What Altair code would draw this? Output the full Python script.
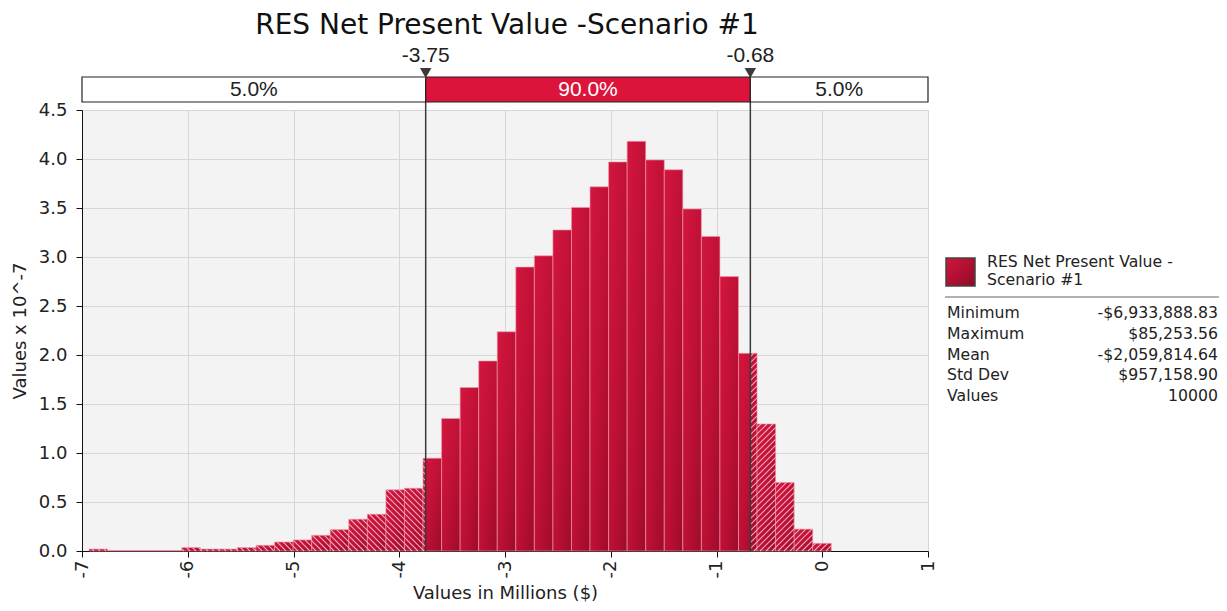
import math
import altair as alt
import pandas as pd

# ---------------- data ----------------
bin_min = -6.93388883
bin_max = 0.08525356
n_bins = 40
heights = [0.02, 0.005, 0.005, 0.005, 0.005, 0.035, 0.02, 0.02, 0.035, 0.058,
           0.092, 0.113, 0.16, 0.218, 0.324, 0.375, 0.624, 0.64, 0.947, 1.353,
           1.668, 1.939, 2.237, 2.897, 3.012, 3.276, 3.506, 3.716, 3.97, 4.18,
           3.99, 3.89, 3.49, 3.21, 2.80, 2.017, 1.296, 0.70, 0.223, 0.078]
p_low = -3.75
p_high = -0.68
band_lo = [-7.0, -3.75, -0.68]
band_hi = [-3.75, -0.68, 1.0]
band_text = ["5.0%", "90.0%", "5.0%"]
marker_values = [-3.75, -0.68]
marker_labels = ["-3.75", "-0.68"]
stat_labels = ["Minimum", "Maximum", "Mean", "Std Dev", "Values"]
stat_values = ["-$6,933,888.83", "$85,253.56", "-$2,059,814.64", "$957,158.90", "10000"]
title_text = "RES Net Present Value -Scenario #1"
legend_lines = ["RES Net Present Value -", "Scenario #1"]
x_ticks = [-7, -6, -5, -4, -3, -2, -1, 0, 1]
y_ticks = [0.0, 0.5, 1.0, 1.5, 2.0, 2.5, 3.0, 3.5, 4.0, 4.5]

# ---------------- layout constants ----------------
W, H = 846, 441
XMIN, XMAX = -7.0, 1.0
YMAX = 4.5
sx = W / (XMAX - XMIN)
sy = H / YMAX
FONT = "DejaVu Sans"
NARROW = "Liberation Sans Narrow, Liberation Sans"

bw = (bin_max - bin_min) / n_bins
bars = pd.DataFrame({
    "lo": [bin_min + i * bw for i in range(n_bins)],
    "hi": [bin_min + (i + 1) * bw for i in range(n_bins)],
    "h": heights,
})

# hatch segments for tails (computed from the bins)
SP = 6.0
segs = []
for lo, hi, h in zip(bars.lo, bars.hi, bars.h):
    for a, b, d in ((lo, min(hi, p_low), -1), (max(lo, p_high), hi, 1)):
        if b <= a or h * sy < 1.5:
            continue
        X0, X1, Y1 = (a - XMIN) * sx, (b - XMIN) * sx, h * sy
        if d < 0:
            C = math.ceil(X0 / SP) * SP
            while C < X1 + Y1:
                xa, xb = max(X0, C - Y1), min(X1, C)
                if xb > xa:
                    segs.append((xa, C - xa, xb, C - xb))
                C += SP
        else:
            C = math.floor((X0 - Y1) / SP) * SP
            while C < X1:
                xa, xb = max(X0, C), min(X1, C + Y1)
                if xb > xa:
                    segs.append((xa, xa - C, xb, xb - C))
                C += SP
hatch = pd.DataFrame({
    "lo": [s[0] / sx + XMIN for s in segs],
    "h": [s[1] / sy for s in segs],
    "hi": [s[2] / sx + XMIN for s in segs],
    "h2": [s[3] / sy for s in segs],
})

xscale = alt.Scale(domain=[XMIN, XMAX], nice=False, zero=False)
yscale = alt.Scale(domain=[0, YMAX], nice=False)
XTITLE = "Values in Millions ($)"
YTITLE = "Values x 10^-7"
xaxis = alt.Axis(values=x_ticks, labelAngle=-90,
                 labelExpr="datum.value < 0 ? '-' + (-datum.value) : '' + datum.value",
                 grid=True, gridColor="#d6d6d6", domainColor="#111",
                 tickColor="#111", tickSize=6, labelFontSize=18,
                 labelFont=FONT, labelColor="#222", titleFont=FONT,
                 titleFontSize=18, titleFontWeight="normal", titleColor="#222",
                 titlePadding=7, labelPadding=3)
yaxis = alt.Axis(values=y_ticks, format=".1f",
                 grid=True, gridColor="#d6d6d6", domainColor="#111",
                 tickColor="#111", tickSize=6, labelFontSize=18,
                 labelFont=FONT, labelColor="#222", titleFont=FONT,
                 titleFontSize=18, titleFontWeight="normal", titleColor="#222",
                 titlePadding=9, labelPadding=9)


def X(field):
    return alt.X(field, scale=xscale, title=XTITLE, axis=xaxis)


def Y(field):
    return alt.Y(field, scale=yscale, title=YTITLE, axis=yaxis)


bar_grad = alt.Gradient(
    gradient="linear",
    stops=[alt.GradientStop(color="#d4163e", offset=0),
           alt.GradientStop(color="#bd1035", offset=0.55),
           alt.GradientStop(color="#9e0b2b", offset=1)],
    x1=0, x2=1, y1=0, y2=1)

bar_layer = alt.Chart(bars).mark_rect(
    fill=bar_grad, stroke="#f19aab", strokeWidth=0.6
).encode(x=X("lo:Q"), x2="hi:Q", y=Y("h:Q"), y2=alt.datum(0))

hatch_layer = alt.Chart(hatch).mark_rule(color="#f4aabb", strokeWidth=1.1).encode(
    x=X("lo:Q"), y=Y("h:Q"), x2="hi:Q", y2="h2:Q")

markers = pd.DataFrame({"lo": marker_values, "lab": marker_labels})
pline = alt.Chart(markers).mark_rule(color="#3a3a3a", strokeWidth=1.5).encode(
    x=X("lo:Q"), y=alt.value(-33), y2=alt.value(H))

band = pd.DataFrame({"lo": band_lo, "hi": band_hi, "t": band_text,
                     "mid": [(a + b) / 2 for a, b in zip(band_lo, band_hi)]})
band_rect = alt.Chart(band).mark_rect(stroke="#222", strokeWidth=1.2).encode(
    x=X("lo:Q"), x2="hi:Q",
    y=alt.value(-33), y2=alt.value(-8),
    fill=alt.Fill("t:N", scale=alt.Scale(domain=["5.0%", "90.0%"],
                                          range=["#ffffff", "#dc143c"]), legend=None),
)
band_txt = alt.Chart(band).mark_text(font=NARROW, fontSize=21, baseline="middle").encode(
    x=X("mid:Q"),
    y=alt.value(-20), text="t:N",
    color=alt.Color("t:N", scale=alt.Scale(domain=["5.0%", "90.0%"],
                                            range=["#222222", "#ffffff"]), legend=None),
)
tri = alt.Chart(markers).mark_point(shape="triangle-down", filled=True, size=130,
                                    color="#3a3a3a", opacity=1).encode(
    x=X("lo:Q"), y=alt.value(-37))
tri_lab = alt.Chart(markers).mark_text(font=NARROW, fontSize=21, color="#222",
                                       baseline="middle").encode(
    x=X("lo:Q"), y=alt.value(-54), text="lab:N")

one = pd.DataFrame({"t": [title_text]})
title = alt.Chart(one).mark_text(font=FONT, fontSize=28, color="#111",
                                 baseline="middle").encode(
    x=alt.value(425), y=alt.value(-84), text="t:N")

swatch_grad = alt.Gradient(
    gradient="linear",
    stops=[alt.GradientStop(color="#d4163e", offset=0),
           alt.GradientStop(color="#8e0a26", offset=1)],
    x1=0, x2=1, y1=0, y2=1)
swatch = alt.Chart(one).mark_rect(fill=swatch_grad, stroke="#444", strokeWidth=1.5).encode(
    x=alt.value(864), x2=alt.value(893), y=alt.value(148), y2=alt.value(176))

LF = 15.7
leg = pd.DataFrame({"t": legend_lines, "yy": [152, 170]})
leg_txt = alt.Chart(leg).mark_text(font=FONT, fontSize=LF, color="#222", align="left",
                                   baseline="middle").encode(
    x=alt.value(905), y=alt.Y("yy:Q", scale=None), text="t:N")
sep = alt.Chart(one).mark_rule(color="#999", strokeWidth=1.5).encode(
    x=alt.value(863), x2=alt.value(1138), y=alt.value(187))

stats = pd.DataFrame({"l": stat_labels, "v": stat_values,
                      "yy": [203 + 20.8 * i for i in range(len(stat_labels))]})
stat_l = alt.Chart(stats).mark_text(font=FONT, fontSize=LF, color="#222", align="left",
                                    baseline="middle").encode(
    x=alt.value(865), y=alt.Y("yy:Q", scale=None), text="l:N")
stat_v = alt.Chart(stats).mark_text(font=FONT, fontSize=LF, color="#222", align="right",
                                    baseline="middle").encode(
    x=alt.value(1136), y=alt.Y("yy:Q", scale=None), text="v:N")

chart = alt.layer(
    bar_layer, hatch_layer, pline, band_rect, band_txt, tri, tri_lab, title,
    swatch, leg_txt, sep, stat_l, stat_v
).properties(
    width=W, height=H,
    autosize=alt.AutoSizeParams(type="none"),
    padding={"left": 74, "top": 102, "right": 291, "bottom": 52},
    background="white",
).configure_view(fill="#f3f3f3", stroke="transparent")

chart.save("out.html", embed_options={"renderer": "svg", "actions": False})
